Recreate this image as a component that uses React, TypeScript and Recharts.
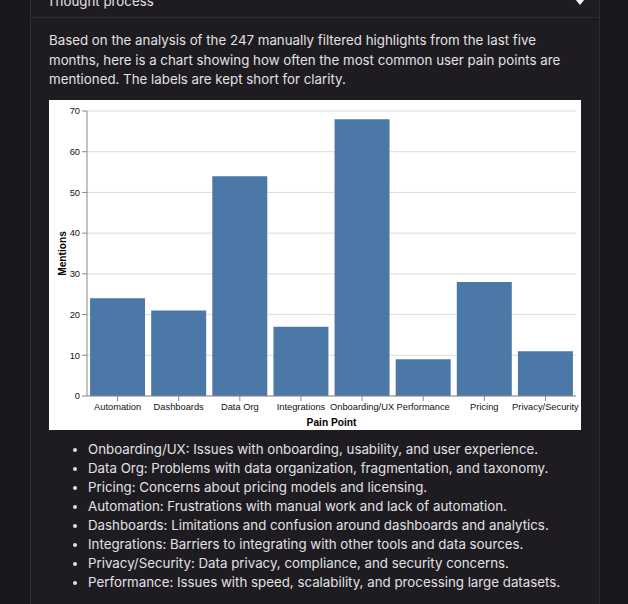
import React from 'react';
import { BarChart, Bar, XAxis, YAxis, CartesianGrid } from 'recharts';

const painPoints = ['Automation', 'Dashboards', 'Data Org', 'Integrations', 'Onboarding/UX', 'Performance', 'Pricing', 'Privacy/Security'];
const mentions = [24, 21, 54, 17, 68, 9, 28, 11];
const yTicks = [0, 10, 20, 30, 40, 50, 60, 70];

const introLines = [
    'Based on the analysis of the 247 manually filtered highlights from the last five',
    'months, here is a chart showing how often the most common user pain points are',
    'mentioned. The labels are kept short for clarity.',
];

const notes = [
    'Onboarding/UX: Issues with onboarding, usability, and user experience.',
    'Data Org: Problems with data organization, fragmentation, and taxonomy.',
    'Pricing: Concerns about pricing models and licensing.',
    'Automation: Frustrations with manual work and lack of automation.',
    'Dashboards: Limitations and confusion around dashboards and analytics.',
    'Integrations: Barriers to integrating with other tools and data sources.',
    'Privacy/Security: Data privacy, compliance, and security concerns.',
    'Performance: Issues with speed, scalability, and processing large datasets.',
];

const data = painPoints.map((name, i) => ({ name, value: mentions[i] }));

const chartFont = '"Liberation Sans", Arial, Helvetica, sans-serif';
const uiFont = 'Inter, "Noto Sans", sans-serif';
const textColor = '#e2e1e4';

function MentionsLabel(props: any) {
    const vb = props.viewBox;
    const x = vb.x + 13;
    const y = vb.y + vb.height / 2;
    return (
        <text
            x={x}
            y={y}
            transform={`rotate(-90, ${x}, ${y})`}
            textAnchor="middle"
            dominantBaseline="central"
            fontFamily={chartFont}
            fontSize={10.2}
            fontWeight="bold"
            fill="#000"
        >
            Mentions
        </text>
    );
}

function PainChart() {
    return (
        <BarChart
            width={532}
            height={330}
            data={data}
            margin={{ top: 11, right: 5, left: 0, bottom: 0 }}
            barCategoryGap="5%"
            style={{ fontFamily: chartFont }}
        >
            <CartesianGrid vertical={false} stroke="#dddddd" />
            <XAxis
                dataKey="name"
                interval={0}
                height={34}
                tickSize={5}
                tickMargin={2}
                tick={{ fontSize: 9.3, fill: '#111' }}
                axisLine={{ stroke: '#888888' }}
                tickLine={{ stroke: '#888888' }}
                label={{ value: 'Pain Point', position: 'insideBottom', offset: 4, fontSize: 10.2, fontWeight: 'bold', fill: '#000' }}
            />
            <YAxis
                width={38}
                domain={[0, 70]}
                ticks={yTicks}
                tickSize={5}
                tickMargin={2}
                tick={{ fontSize: 9.3, fill: '#111' }}
                axisLine={{ stroke: '#888888' }}
                tickLine={{ stroke: '#888888' }}
                label={<MentionsLabel />}
            />
            <YAxis
                yAxisId="r"
                orientation="right"
                width={0}
                tick={false}
                tickLine={false}
                axisLine={{ stroke: '#dddddd' }}
            />
            <Bar dataKey="value" fill="#4c78a8" isAnimationActive={false} />
        </BarChart>
    );
}

export default function App() {
    return (
        <div style={{ position: 'fixed', left: 0, top: 0, width: 628, height: 604, background: '#18171b', overflow: 'hidden', fontFamily: uiFont }}>
            <div style={{ position: 'absolute', left: 30, top: -30, width: 568, height: 660, background: '#1e1c21', border: '1px solid #2f2d33' }} />
            <div style={{ position: 'absolute', left: 31, top: 17, width: 568, height: 1, background: '#2f2d33' }} />
            <div style={{ position: 'absolute', left: 47, top: -8, fontSize: 13.3, lineHeight: '19px', color: textColor }}>Thought process</div>
            <div style={{ position: 'absolute', left: 575, top: -1, width: 0, height: 0, borderLeft: '5px solid transparent', borderRight: '5px solid transparent', borderTop: '6px solid #f2f2f2' }} />
            <div style={{ position: 'absolute', left: 49, top: 31, fontSize: 13.3, lineHeight: '19.5px', color: textColor, whiteSpace: 'nowrap' }}>
                {introLines.map((l, i) => (
                    <div key={i}>{l}</div>
                ))}
            </div>
            <div style={{ position: 'absolute', left: 49, top: 100, width: 532, height: 330, background: '#ffffff' }}>
                <PainChart />
            </div>
            <div style={{ position: 'absolute', left: 88, top: 440, fontSize: 13.3, lineHeight: '19px', color: textColor, whiteSpace: 'nowrap' }}>
                {notes.map((n, i) => (
                    <div key={i} style={{ position: 'relative' }}>
                        <span style={{ position: 'absolute', left: -15, top: 8, width: 4, height: 4, borderRadius: 2, background: textColor }} />
                        {n}
                    </div>
                ))}
            </div>
        </div>
    );
}
